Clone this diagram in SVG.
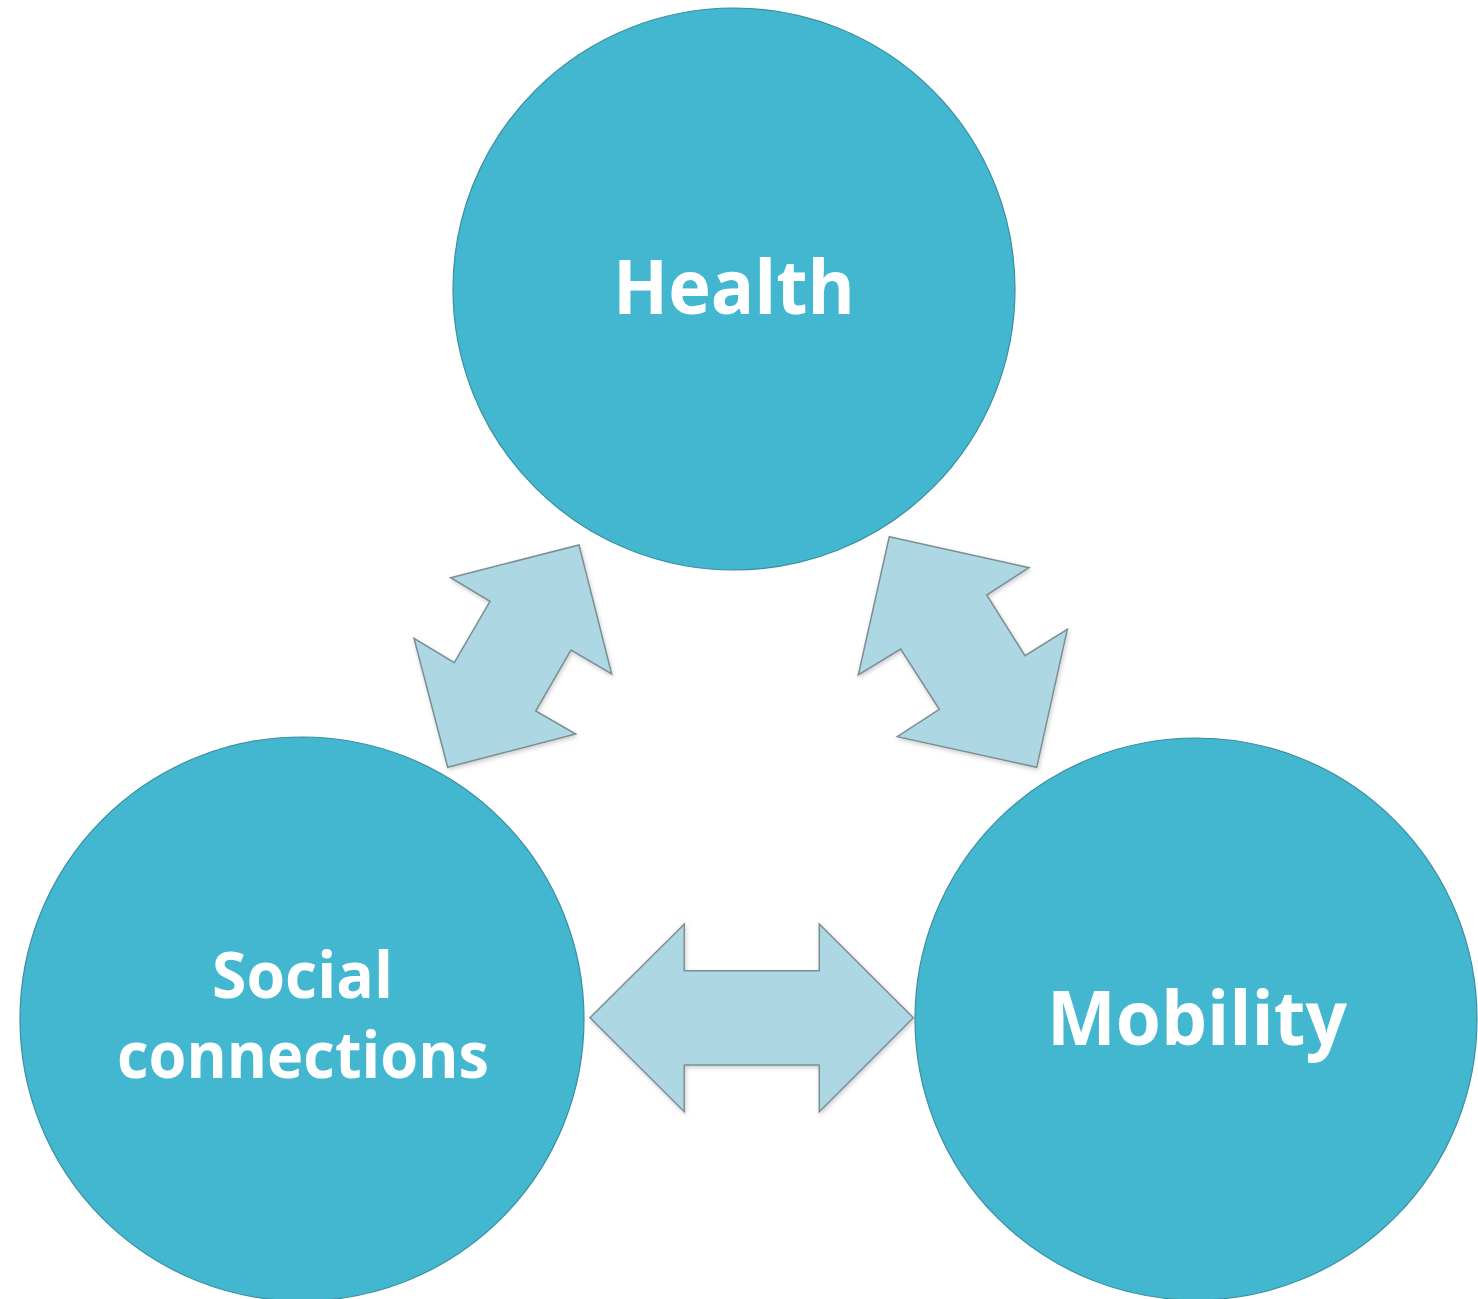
<svg xmlns="http://www.w3.org/2000/svg" width="1478" height="1299" viewBox="0 0 1478 1299">
<defs>
<style>
.node{fill:#42B7CF;stroke:#3A8FA0;stroke-width:1.2}
.arrow{fill:#ADD8E3;stroke:#7C8E94;stroke-width:1.5;stroke-linejoin:miter}
.lbl{font-family:"Open Sans","Liberation Sans",sans-serif;font-weight:700;fill:#FFFFFF;text-anchor:middle}
</style>
<filter id="sh" x="-10%" y="-10%" width="120%" height="120%">
<feDropShadow dx="1" dy="2" stdDeviation="2" flood-color="#000" flood-opacity="0.2"/>
</filter>
</defs>
<rect width="1478" height="1299" fill="#FFFFFF"/>
<g id="connectors">
<polygon class="arrow" filter="url(#sh)" points="450.7,577.7 579,545 611.7,674 571,650 535.7,711 575.7,734 447.7,767.3 414,638.3 454.3,662.7 490,601.3"/>
<polygon class="arrow" filter="url(#sh)" points="889.3,536.7 1029,567.7 986.7,595 1025,655.7 1067.3,629.3 1036.7,767.3 897.3,736.7 939.3,709.3 900.7,649 858.3,675"/>
<polygon class="arrow" filter="url(#sh)" points="590,1017.7 684.3,924 684.3,970.7 819.3,970.7 819.3,924 913.3,1017.7 819.3,1111.7 819.3,1065 684.3,1065 684.3,1111.7"/>
</g>
<g id="node-health">
<circle class="node" cx="734" cy="289" r="281"/>
<text class="lbl" x="734" y="314" font-size="76" textLength="242" lengthAdjust="spacingAndGlyphs">Health</text>
</g>
<g id="node-social">
<circle class="node" cx="302" cy="1019" r="282"/>
<text class="lbl" x="302.5" y="998" font-size="64" textLength="181" lengthAdjust="spacingAndGlyphs">Social</text>
<text class="lbl" x="303" y="1078" font-size="64" textLength="372" lengthAdjust="spacingAndGlyphs">connections</text>
</g>
<g id="node-mobility">
<circle class="node" cx="1196" cy="1019" r="281"/>
<text class="lbl" x="1197" y="1045" font-size="76" textLength="300" lengthAdjust="spacingAndGlyphs">Mobility</text>
</g>
</svg>
